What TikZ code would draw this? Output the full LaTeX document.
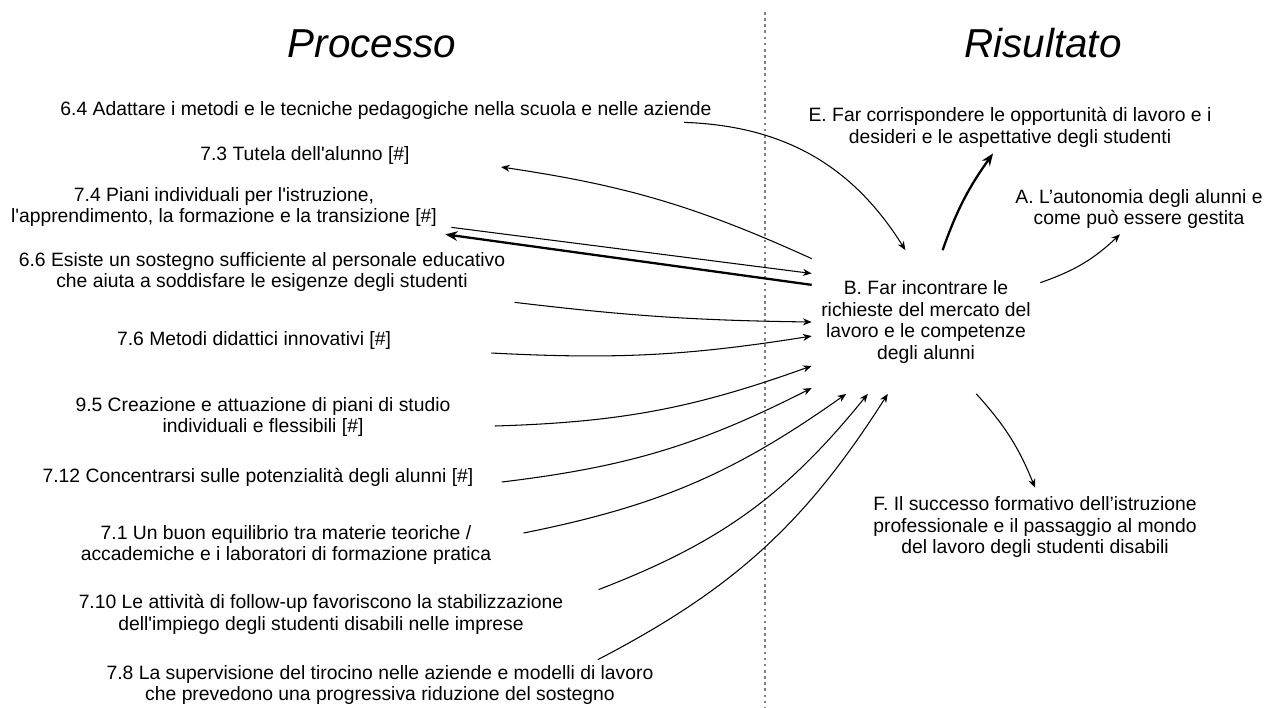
\documentclass[tikz,border=0pt]{standalone}
\usepackage{fontspec}
\setmainfont{Liberation Sans}
\newfontfamily\plainsans{Liberation Sans}
\usetikzlibrary{arrows.meta}

\begin{document}
\begin{tikzpicture}[x=0.02cm, y=0.02cm]

    % Define styles
    \tikzstyle{item} = [inner sep=0pt, align=center, font=\plainsans\fontsize{11}{12.5}\selectfont]
    \tikzstyle{heading} = [inner sep=0pt, font=\plainsans\fontsize{23}{26}\selectfont\itshape]
    \tikzstyle{arrow} = [line width=0.6pt, -{Stealth[length=5pt,width=4pt]}]
    \tikzstyle{thickarrow} = [line width=1.3pt, -{Stealth[length=7pt,width=5.5pt]}]

    \useasboundingbox (0,0) rectangle (1266,-707);

    % Headings and separator
    \node[heading] (processo) at (372,-44) {Processo};
    \node[heading] (risultato) at (1043,-43) {Risultato};
    \draw[gray, line width=0.8pt, dash pattern=on 1.5pt off 2pt] (765,-12) -- (765,-707);

    % Process items (left)
    \node[item] (p64) at (386,-110) {6.4 Adattare i metodi e le tecniche pedagogiche nella scuola e nelle aziende};
    \node[item] (p73) at (305,-155) {7.3 Tutela dell'alunno [\#]};
    \node[item] (p74) at (224,-207) {7.4 Piani individuali per l'istruzione,\\l'apprendimento, la formazione e la transizione [\#]};
    \node[item] (p66) at (262,-272) {6.6 Esiste un sostegno sufficiente al personale educativo\\che aiuta a soddisfare le esigenze degli studenti};
    \node[item] (p76) at (254,-340) {7.6 Metodi didattici innovativi [\#]};
    \node[item] (p95) at (263,-417) {9.5 Creazione e attuazione di piani di studio\\individuali e flessibili [\#]};
    \node[item] (p712) at (258,-477) {7.12 Concentrarsi sulle potenzialità degli alunni [\#]};
    \node[item] (p71) at (286,-545) {7.1 Un buon equilibrio tra materie teoriche /\\accademiche e i laboratori di formazione pratica};
    \node[item] (p710) at (321,-614) {7.10 Le attività di follow-up favoriscono la stabilizzazione\\dell'impiego degli studenti disabili nelle imprese};
    \node[item] (p78) at (380,-685) {7.8 La supervisione del tirocino nelle aziende e modelli di lavoro\\che prevedono una progressiva riduzione del sostegno};

    % Outcomes (right)
    \node[item, minimum width=4.56cm, minimum height=2.86cm] (rB) at (926,-322) {B. Far incontrare le\\richieste del mercato del\\lavoro e le competenze\\degli alunni};
    \node[item] (rE) at (1010,-127) {E. Far corrispondere le opportunità di lavoro e i\\desideri e le aspettative degli studenti};
    \node[item] (rA) at (1139,-209) {A. L’autonomia degli alunni e\\come può essere gestita};
    \node[item] (rF) at (1035,-527) {F. Il successo formativo dell’istruzione\\professionale e il passaggio al mondo\\del lavoro degli studenti disabili};

    % Arrows into B
    \draw[arrow] ([shift={(-28,-3)}]p64.south east) to[bend left=28] (rB.106);
    \draw[arrow, {Stealth[length=5pt,width=4pt]}-] ([shift={(91,-12)}]p73.east) to[bend left=8] (rB.151);
    \draw[arrow] ([shift={(14,0)}]p74.south east) -- (rB.157);
    \draw[thickarrow] (rB.162) -- ([shift={(8,-7)}]p74.south east);
    \draw[arrow] ([shift={(9,-10)}]p66.south east) to[bend right=3] (rB.180);
    \draw[arrow] ([shift={(100,-13)}]p76.east) to[bend right=6] (rB.187);
    \draw[arrow] ([shift={(44,-9)}]p95.east) to[bend right=9] (rB.201);
    \draw[arrow] ([shift={(28,-5)}]p712.east) to[bend right=10] (rB.210);
    \draw[arrow] ([shift={(32,12)}]p71.east) to[bend right=12] (rB.222);
    \draw[arrow] ([shift={(35,4)}]p710.north east) to[bend right=15] (rB.231);
    \draw[arrow] ([shift={(-56,5)}]p78.north east) to[bend right=15] (rB.242);

    % Arrows out of B
    \draw[thickarrow] (rB.77) to[bend left=8] ([shift={(-17,-6)}]rE.south);
    \draw[arrow] (rB.19) to[bend right=12] ([shift={(-19,-5)}]rA.south);
    \draw[arrow] (rB.305) to[bend left=10] ([shift={(0,8)}]rF.north);

\end{tikzpicture}
\end{document}
